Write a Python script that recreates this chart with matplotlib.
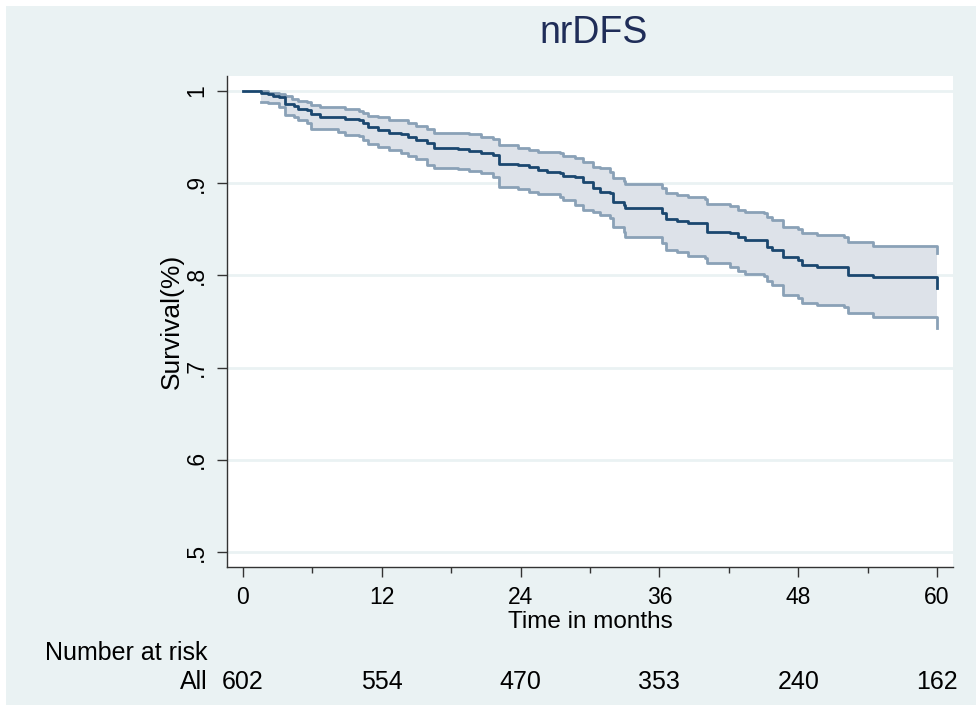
import numpy as np
import matplotlib.pyplot as plt
import matplotlib.transforms as mtransforms
from matplotlib.patches import Rectangle

plt.rcParams['font.family'] = ['Liberation Sans', 'DejaVu Sans']

# Kaplan-Meier estimate with 95% CI (step values, months)
months = [0, 1.6, 2.2, 2.6, 3.1, 3.6, 4.2, 4.4, 4.8, 5.5, 5.9, 6.7, 8.2, 8.8,
          10.0, 10.4, 10.8, 11.7, 12.6, 13.7, 14.3, 15.0, 15.9, 16.5, 18.6,
          19.5, 20.6, 21.6, 22.1, 23.8, 24.7, 25.5, 26.3, 27.4, 27.7, 28.7,
          29.4, 30.3, 30.9, 31.7, 32.0, 32.9, 33.0, 36.2, 36.6, 37.5, 38.5,
          39.9, 40.1, 42.1, 42.8, 43.4, 45.0, 45.3, 45.7, 46.7, 48.0, 48.3,
          49.6, 52.0, 52.3, 54.5, 60.0]
surv = [1.0, 0.998, 0.9967, 0.9946, 0.9931, 0.9859, 0.9859, 0.9837, 0.9801,
        0.9794, 0.9747, 0.9722, 0.9722, 0.9693, 0.9686, 0.9649, 0.9606,
        0.9577, 0.9548, 0.9530, 0.9505, 0.9469, 0.9432, 0.9378, 0.9371,
        0.9353, 0.9324, 0.9306, 0.9208, 0.9197, 0.9172, 0.9143, 0.9125,
        0.9114, 0.9082, 0.9064, 0.9017, 0.895, 0.8908, 0.8890, 0.8800,
        0.8764, 0.8727, 0.8673, 0.8608, 0.8590, 0.8565, 0.8565, 0.8474,
        0.8456, 0.8413, 0.8384, 0.8384, 0.8312, 0.8276, 0.8203, 0.8167,
        0.8113, 0.8088, 0.8088, 0.8004, 0.7979, 0.7860]
upper = [np.nan, 0.9995, 0.998, 0.998, 0.9967, 0.9946, 0.9910, 0.9910, 0.9896,
         0.9884, 0.9848, 0.9830, 0.9830, 0.9801, 0.9787, 0.9765, 0.9729,
         0.9714, 0.9685, 0.9685, 0.9657, 0.9620, 0.9584, 0.9548, 0.9548,
         0.9534, 0.9505, 0.9476, 0.9414, 0.9378, 0.9360, 0.9342, 0.9342,
         0.9324, 0.9295, 0.9270, 0.9234, 0.918, 0.9161, 0.9125, 0.9053,
         0.9027, 0.8991, 0.8944, 0.8890, 0.8872, 0.8847, 0.8825, 0.8774,
         0.8753, 0.8709, 0.8691, 0.8680, 0.8637, 0.8601, 0.8528, 0.8499,
         0.8456, 0.8438, 0.8420, 0.8366, 0.8319, 0.8239]
lower = [np.nan, 0.9877, 0.9866, 0.9866, 0.9830, 0.9740, 0.9740, 0.9722,
         0.9685, 0.9649, 0.9584, 0.9584, 0.9559, 0.9523, 0.9512, 0.9469,
         0.9425, 0.9396, 0.9360, 0.9324, 0.9295, 0.9259, 0.9197, 0.9161,
         0.9150, 0.9136, 0.9107, 0.9071, 0.8955, 0.8934, 0.8908, 0.8883,
         0.8883, 0.8854, 0.8818, 0.8764, 0.8709, 0.8690, 0.8655, 0.8619,
         0.8529, 0.8474, 0.8420, 0.8348, 0.8276, 0.8258, 0.8210, 0.8185,
         0.8131, 0.8095, 0.8051, 0.8015, 0.7993, 0.7943, 0.7896, 0.7787,
         0.7751, 0.7704, 0.7679, 0.7654, 0.7596, 0.7545, 0.7426]

risk_times = [0, 12, 24, 36, 48, 60]
at_risk = [602, 554, 470, 353, 240, 162]
yticks = [0.5, 0.6, 0.7, 0.8, 0.9, 1.0]
ytick_labels = ['.5', '.6', '.7', '.8', '.9', '1']

bg = '#eaf2f3'
navy = '#1a476f'
ci_line = '#8aa1b7'
ci_fill = '#dde2e9'

W, H = 976, 712
fig = plt.figure(figsize=(W / 100, H / 100), dpi=100, facecolor='white')
fig.patches.append(Rectangle((6 / W, 7 / H), 970 / W, 699 / H,
                             transform=fig.transFigure, facecolor=bg,
                             edgecolor='none', zorder=-10))

ax = fig.add_axes([227 / W, 1 - 567 / H, 726 / W, 491 / H])
ax.set_facecolor('white')

t = np.array(months)
lo = np.array(lower)
hi = np.array(upper)
ok = ~np.isnan(lo)
ax.fill_between(t[ok], lo[ok], hi[ok], step='post', color=ci_fill, lw=0, zorder=1)
# stepped lines, closing with the drop at the last event
ax.step(t[ok], hi[ok], where='post', color=ci_line, lw=2, zorder=2)
ax.step(t[ok], lo[ok], where='post', color=ci_line, lw=2, zorder=2)
ax.step(t, surv, where='post', color=navy, lw=2, zorder=3)

ax.set_xlim(-1.38, 61.38)
ax.set_ylim(0.4837, 1.0163)
ax.set_yticks(yticks)
ax.set_yticklabels(ytick_labels, rotation=90, va='center')
ax.set_xticks(risk_times)
ax.set_xticks([6, 18, 30, 42, 54], minor=True)
ax.yaxis.grid(True, color=bg, lw=2)
ax.set_axisbelow(True)
for s in ['top', 'right']:
    ax.spines[s].set_visible(False)
for s in ['left', 'bottom']:
    ax.spines[s].set_color('#333333')
    ax.spines[s].set_linewidth(1)
ax.tick_params(axis='both', which='major', length=7.5, width=1, color='#333333',
               labelsize=16.5, pad=6)
ax.tick_params(axis='x', which='minor', length=4.5, width=1, color='#333333')

fig.text(594 / W, 1 - 33 / H, 'nrDFS', fontsize=27, color='#1f2d58',
         ha='center', va='center')
ax.set_xlabel('Time in months', fontsize=17.5, va='top')
ax.xaxis.set_label_coords(0.5, (567 - 611) / 491)
ax.set_ylabel('Survival(%)', fontsize=19)
ax.yaxis.set_label_coords((184 - 227) / 726, 0.5)

# number-at-risk table under the axis
trans = mtransforms.blended_transform_factory(ax.transData, fig.transFigure)
for x, n in zip(risk_times, at_risk):
    ax.text(x, 1 - 682 / H, str(n), transform=trans, ha='center', va='center',
            fontsize=18)
fig.text(208 / W, 1 - 682 / H, 'All', ha='right', va='center', fontsize=18)
fig.text(45 / W, 1 - 653 / H, 'Number at risk', ha='left', va='center', fontsize=18)

fig.savefig('out.png', dpi=100, facecolor='white')
